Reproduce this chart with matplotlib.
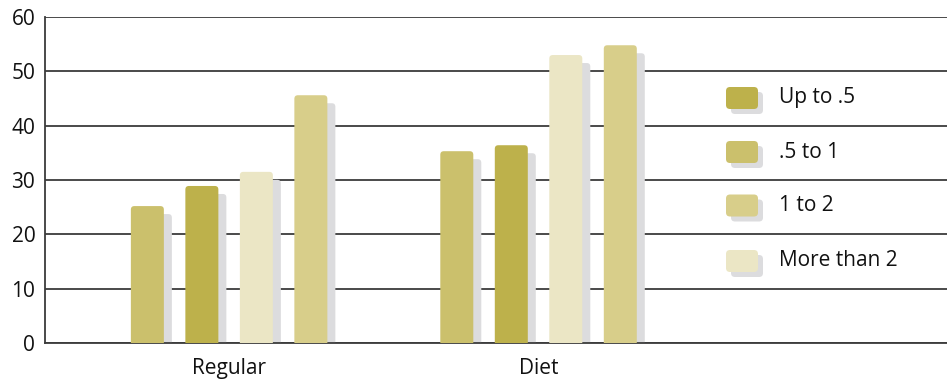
import matplotlib
matplotlib.use("Agg")
import matplotlib.pyplot as plt
from matplotlib.patches import FancyBboxPatch
import numpy as np

plt.rcParams['font.family'] = ['Open Sans', 'DejaVu Sans']

# data
groups = ['Regular', 'Diet']
series = ['.5 to 1', 'Up to .5', 'More than 2', '1 to 2']   # order the bars stand in
values = {
    '.5 to 1':     [25.2, 35.3],
    'Up to .5':    [28.9, 36.4],
    'More than 2': [31.5, 53.0],
    '1 to 2':      [45.6, 54.8],
}
legend_order = ['Up to .5', '.5 to 1', '1 to 2', 'More than 2']
colors = {
    'Up to .5':    '#bdb14b',
    '.5 to 1':     '#cbc06c',
    '1 to 2':      '#d8ce8a',
    'More than 2': '#ebe6c5',
}
shadow = '#dcdcde'
grid = '#3c3c3c'
fs = 15

fig = plt.figure(figsize=(9.47, 3.79), dpi=100)
ax = fig.add_axes([45 / 947, 1 - 343 / 379, 1 - 45 / 947, (343 - 17) / 379])

ax.set_xlim(-0.595, 2.32)
ax.set_ylim(0, 60)

# pixel sizes -> data units
px_x = 2.915 / 902
px_y = 60 / 326
step = 54.5 * px_x
width = 33 * px_x
rad = 3.5 * px_x
aspect = px_y / px_x

x = np.arange(len(groups))
for i, s in enumerate(series):
    xs = x + (i - 1.5) * step
    for xi, v in zip(xs, values[s]):
        # shadow
        sh = FancyBboxPatch((xi - width / 2 + 8 * px_x, -5), width, v + 5 - 8 * px_y,
                            boxstyle='round,pad=0,rounding_size=%f' % rad,
                            mutation_aspect=aspect, fc=shadow, ec='none', zorder=2,
                            clip_on=True)
        ax.add_patch(sh)
        b = FancyBboxPatch((xi - width / 2, -5), width, v + 5,
                           boxstyle='round,pad=0,rounding_size=%f' % rad,
                           mutation_aspect=aspect, fc=colors[s], ec='none', zorder=3,
                           clip_on=True)
        ax.add_patch(b)

ax.set_yticks(range(0, 61, 10))
ax.yaxis.grid(True, color=grid, lw=1.3, zorder=1)
ax.set_axisbelow(True)
ax.tick_params(axis='y', length=0, pad=7, labelsize=fs, colors='#111111')
ax.tick_params(axis='x', length=0, pad=11, labelsize=fs, colors='#111111')
ax.set_xticks(x)
ax.set_xticklabels(groups)
for sp in ['top', 'right']:
    ax.spines[sp].set_visible(False)
ax.spines['left'].set_color(grid)
ax.spines['bottom'].set_color(grid)
ax.spines['left'].set_linewidth(1.3)
ax.spines['bottom'].set_linewidth(1.3)

# legend drawn by hand, in pixel inches
leg_y = [98, 152, 205.5, 261]
for name, yc in zip(legend_order, leg_y):
    for dx, dy, c, z in [(5, 5, shadow, 4), (0, 0, colors[name], 5)]:
        p = FancyBboxPatch(((726 + dx) / 100, (379 - yc - 11 - dy) / 100), 0.32, 0.22,
                           boxstyle='round,pad=0,rounding_size=0.04',
                           transform=fig.dpi_scale_trans, fc=c, ec='none', zorder=z)
        fig.patches.append(p)
    fig.text(779 / 947, 1 - yc / 379, name, fontsize=fs, va='center', ha='left',
             color='#111111')

fig.savefig('out.png', dpi=100)
